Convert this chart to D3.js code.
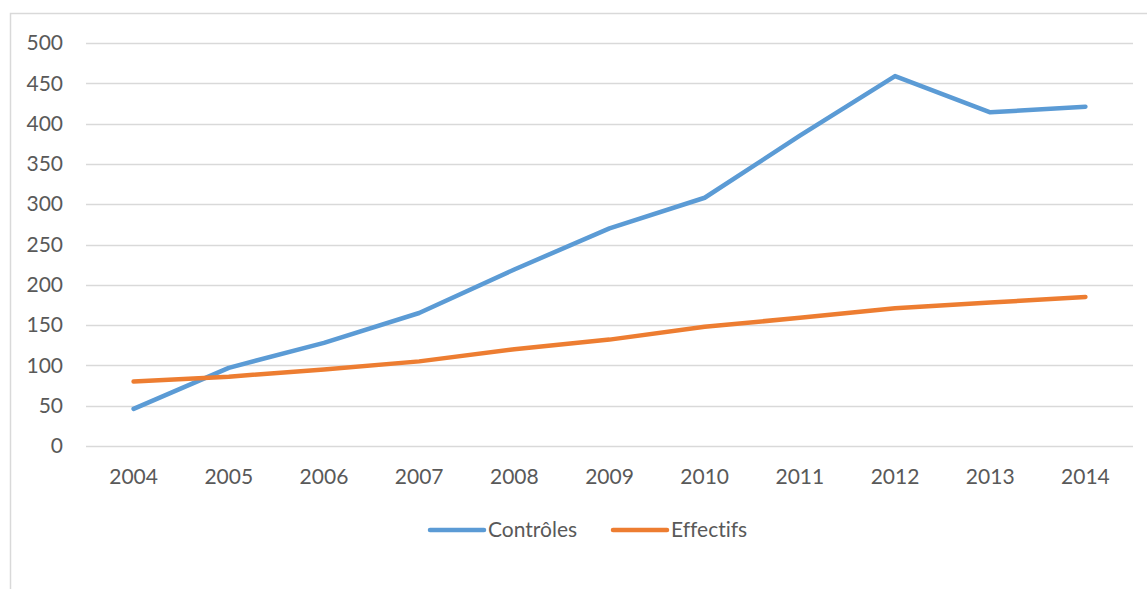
<!DOCTYPE html>
<html>
<head>
<meta charset="utf-8">
<script src="https://cdn.jsdelivr.net/npm/d3@7"></script>
<style>
  body { margin: 0; background: #fff; }
  text { font-family: Lato, "Open Sans", sans-serif; fill: #595959; font-variant-ligatures: none; }
</style>
</head>
<body>
<div id="chart"></div>
<script>
const years = ["2004", "2005", "2006", "2007", "2008", "2009", "2010", "2011", "2012", "2013", "2014"];
const controles = [46, 97, 128, 165, 219, 270, 308, 385, 459, 414, 421];
const effectifs = [80, 86, 95, 105, 120, 132, 148, 159, 171, 178, 185];
const yTicks = [0, 50, 100, 150, 200, 250, 300, 350, 400, 450, 500];

const series = [
  {name: "Contrôles", values: controles, color: "#5b9bd5"},
  {name: "Effectifs", values: effectifs, color: "#ed7d31"}
];

const W = 1147, H = 589,
      margin = {top: 43, right: 14, bottom: 143, left: 86};

const svg = d3.select("#chart")
  .append("svg")
    .attr("width", W)
    .attr("height", H);

// outer chart border
svg.append("path")
  .attr("d", "M10.5," + H + "V13.5H" + W)
  .attr("fill", "none")
  .attr("stroke", "#d9d9d9")
  .attr("stroke-width", 1.5);

const g = svg.append("g")
  .attr("transform", "translate(" + margin.left + "," + margin.top + ")");

const width = W - margin.left - margin.right,
      height = H - margin.top - margin.bottom;

const x = d3.scaleBand()
  .domain(years)
  .range([0, width]);

const y = d3.scaleLinear()
  .domain([0, 500])
  .range([height, 0]);

// gridlines
g.selectAll(".grid")
  .data(yTicks)
  .enter()
  .append("line")
    .attr("x1", 0)
    .attr("x2", width)
    .attr("y1", d => Math.round(y(d)) + 0.5)
    .attr("y2", d => Math.round(y(d)) + 0.5)
    .attr("stroke", "#d9d9d9")
    .attr("stroke-width", 1.5);

// y axis labels
const yAxis = g.append("g")
  .call(d3.axisLeft(y).tickValues(yTicks).tickSize(0).tickPadding(23));
yAxis.select(".domain").remove();
yAxis.selectAll("text")
  .style("font-size", "21px")
  .attr("fill", "#595959");

// x axis labels
const xAxis = g.append("g")
  .attr("transform", "translate(0," + height + ")")
  .call(d3.axisBottom(x).tickSize(0).tickPadding(23));
xAxis.select(".domain").remove();
xAxis.selectAll("text")
  .style("font-size", "21px")
  .attr("fill", "#595959");

// lines
const line = d3.line()
  .x((d, i) => x(years[i]) + x.bandwidth() / 2)
  .y(d => y(d));

g.selectAll(".series")
  .data(series)
  .enter()
  .append("path")
    .attr("d", d => line(d.values))
    .attr("fill", "none")
    .attr("stroke", d => d.color)
    .attr("stroke-width", 4.5)
    .attr("stroke-linecap", "round")
    .attr("stroke-linejoin", "round");

// legend
const legendX = [430, 613];
const legend = svg.selectAll(".legend")
  .data(series)
  .enter()
  .append("g")
    .attr("transform", (d, i) => "translate(" + legendX[i] + ",530)");

legend.append("line")
  .attr("x1", 0)
  .attr("x2", 54)
  .attr("stroke", d => d.color)
  .attr("stroke-width", 4.5)
  .attr("stroke-linecap", "round");

legend.append("text")
  .attr("x", 58)
  .attr("dy", "0.35em")
  .style("font-size", "21px")
  .text(d => d.name);
</script>
</body>
</html>
